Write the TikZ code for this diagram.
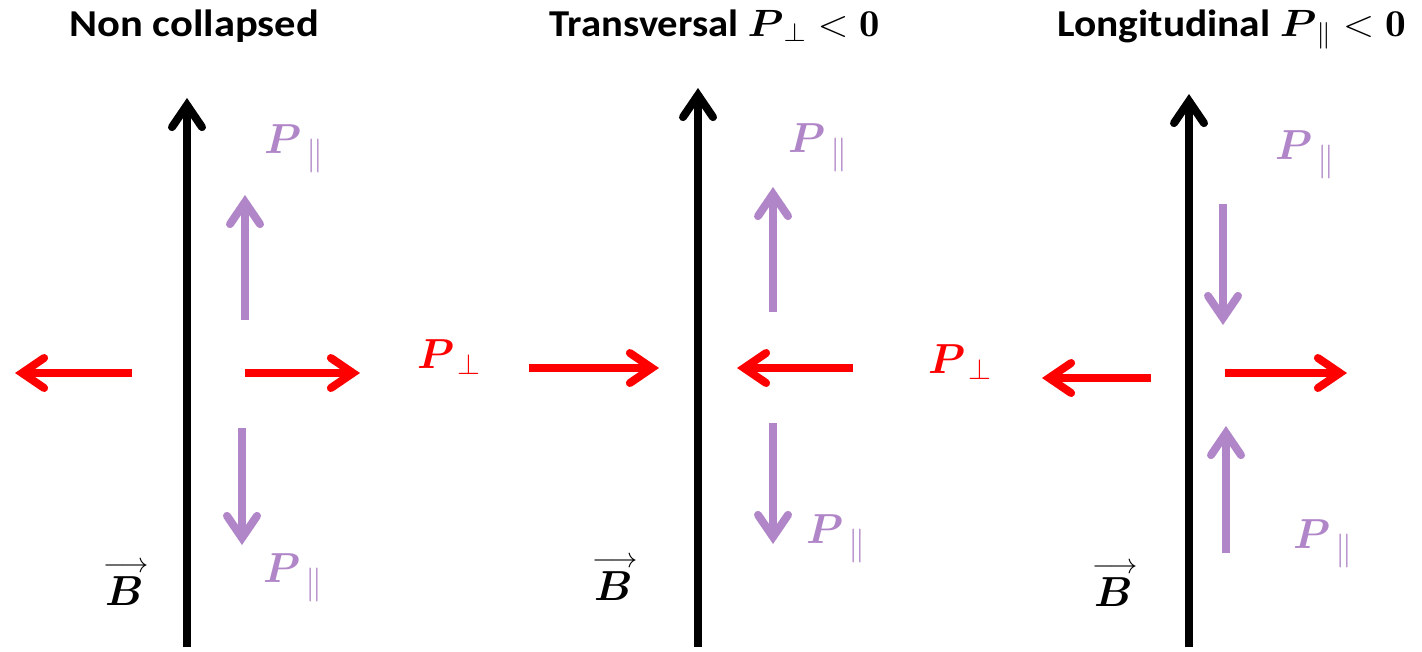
\RequirePackage{fix-cm}
\documentclass[tikz,border=0pt]{standalone}
\usepackage{amsmath,amssymb}
\usepackage{fontspec}
\newfontfamily\titlefont{Carlito}
\usetikzlibrary{arrows.meta}
\definecolor{pred}{RGB}{255,0,0}
\definecolor{ppar}{RGB}{176,134,200}
\tikzset{
  vec/.style={line width=8pt, -{Straight Barb[line cap=round, line join=miter, length=22pt, width=30pt]}},
  fieldvec/.style={vec, black},
  perpvec/.style={vec, pred},
  paravec/.style={vec, ppar},
  lab/.style={inner sep=0pt, anchor=base west, font=\fontsize{42}{48}\selectfont},
  title/.style={inner sep=0pt, anchor=base, font=\fontsize{38}{42}\selectfont\titlefont\bfseries},
}
\newcommand{\Ppar}{$\boldsymbol{P}_{\mkern3mu\mbox{\fontsize{34}{36}\selectfont$\parallel$}}$}
\newcommand{\Pperp}{$\boldsymbol{P}_{\mkern2mu\perp}$}
\newcommand{\Bvec}{\rlap{\raisebox{33pt}{\fontsize{28}{30}\selectfont$\longrightarrow$}}\hspace{2pt}$\boldsymbol{B}$}
\begin{document}
\begin{tikzpicture}[x=1pt,y=-1pt]
\useasboundingbox (0,0) rectangle (1422,651);
% titles
\node[title] (t1) at (194,36) {\scalebox{1.12}[1]{Non collapsed}};
\node[title] (t2) at (715,36) {\scalebox{1.07}[1]{Transversal $\boldsymbol{P}_{\perp} < \mathbf{0}$}};
\node[title] (t3) at (1232,36) {\scalebox{1.09}[1]{Longitudinal $\boldsymbol{P}_{\parallel} < \mathbf{0}$}};
% panel 1
\coordinate (b1s) at (187,647); \coordinate (b1e) at (187,98);
\coordinate (u1s) at (245,320); \coordinate (u1e) at (245,195);
\coordinate (d1s) at (242,428); \coordinate (d1e) at (242,545);
\coordinate (l1s) at (132,373); \coordinate (l1e) at (15,373);
\coordinate (r1s) at (245,373); \coordinate (r1e) at (360,373);
\draw[fieldvec] (b1s) -- (b1e);
\draw[paravec] (u1s) -- (u1e);
\draw[paravec] (d1s) -- (d1e);
\draw[perpvec] (l1s) -- (l1e);
\draw[perpvec] (r1s) -- (r1e);
\node[lab, text=ppar] (pa1) at (264,153) {\Ppar};
\node[lab, text=ppar] (pb1) at (263,582) {\Ppar};
\node[lab, text=pred] (pp1) at (417,368) {\Pperp};
\node[lab] (B1) at (103,605) {\Bvec};
% panel 2
\coordinate (b2s) at (698,647); \coordinate (b2e) at (698,88);
\coordinate (u2s) at (773,312); \coordinate (u2e) at (773,187);
\coordinate (d2s) at (773,423); \coordinate (d2e) at (773,544);
\coordinate (r2s) at (529,368); \coordinate (r2e) at (659,368);
\coordinate (l2s) at (853,368); \coordinate (l2e) at (737,368);
\draw[fieldvec] (b2s) -- (b2e);
\draw[paravec] (u2s) -- (u2e);
\draw[paravec] (d2s) -- (d2e);
\draw[perpvec] (r2s) -- (r2e);
\draw[perpvec] (l2s) -- (l2e);
\node[lab, text=ppar] (pa2) at (788,152) {\Ppar};
\node[lab, text=ppar] (pb2) at (806,543) {\Ppar};
\node[lab, text=pred] (pp2) at (928,373) {\Pperp};
\node[lab] (B2) at (592,600) {\Bvec};
% panel 3
\coordinate (b3s) at (1189,647); \coordinate (b3e) at (1189,94);
\coordinate (d3s) at (1223,204); \coordinate (d3e) at (1223,325);
\coordinate (u3s) at (1226,553); \coordinate (u3e) at (1226,426);
\coordinate (l3s) at (1151,378); \coordinate (l3e) at (1042,378);
\coordinate (r3s) at (1225,373); \coordinate (r3e) at (1347,373);
\draw[fieldvec] (b3s) -- (b3e);
\draw[paravec] (d3s) -- (d3e);
\draw[paravec] (u3s) -- (u3e);
\draw[perpvec] (l3s) -- (l3e);
\draw[perpvec] (r3s) -- (r3e);
\node[lab, text=ppar] (pa3) at (1275,159) {\Ppar};
\node[lab, text=ppar] (pb3) at (1293,548) {\Ppar};
\node[lab] (B3) at (1092,606) {\Bvec};
\end{tikzpicture}
\end{document}
